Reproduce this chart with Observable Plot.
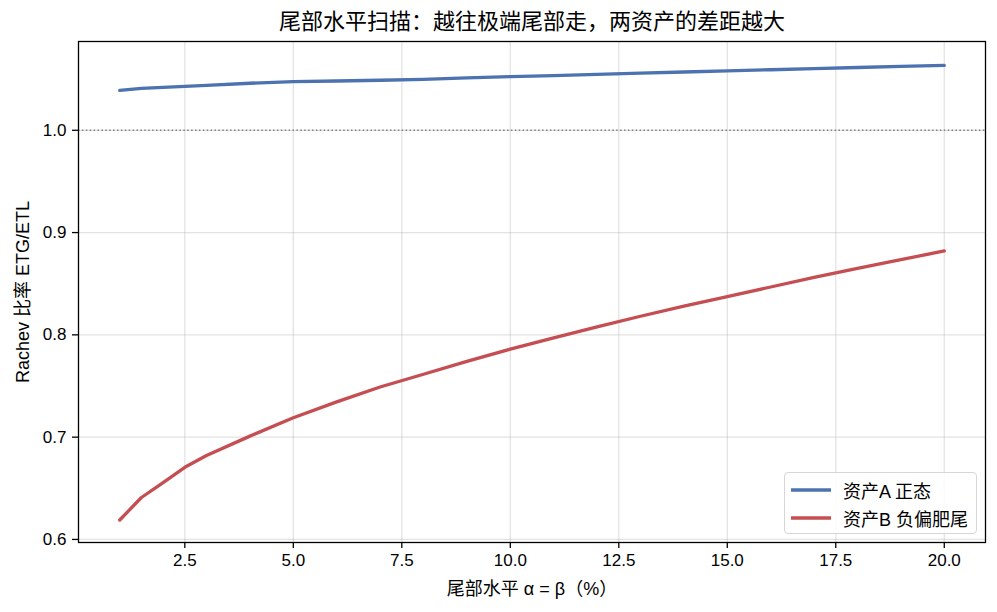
<!DOCTYPE html>
<html><head><meta charset="utf-8">
<script src="https://cdn.jsdelivr.net/npm/d3@7"></script>
<script src="https://cdn.jsdelivr.net/npm/@observablehq/plot@0.6"></script>
<style>
body{margin:0;background:#fff;}
#wrap{position:relative;width:997px;height:612px;font-family:"Liberation Sans","Noto Sans CJK SC",sans-serif;}
#legend{position:absolute;left:784px;top:472px;width:193px;height:62px;border:1px solid #d6d6d6;border-radius:4px;background:rgba(255,255,255,0.85);box-sizing:border-box;}
.item{position:absolute;left:0;height:22px;display:flex;align-items:center;font-size:18px;color:#000;white-space:nowrap;}
.item svg{margin-left:6px;margin-right:12px;}
</style>
</head><body>
<div id="wrap"></div>
<script>
// Data
const tailLevels = [1, 1.5, 2, 2.5, 3, 4, 5, 6, 7, 8, 9, 10, 11, 12, 13, 14, 15, 16, 17, 18, 19, 20];
const seriesA = [1.039, 1.041, 1.042, 1.043, 1.044, 1.046, 1.0475, 1.0482, 1.0489, 1.0498, 1.0512, 1.0525, 1.0535, 1.0546, 1.0558, 1.057, 1.0581, 1.0592, 1.0603, 1.0614, 1.0624, 1.0634];
const seriesB = [0.619, 0.641, 0.6555, 0.6705, 0.682, 0.701, 0.719, 0.7345, 0.749, 0.7615, 0.774, 0.786, 0.797, 0.8078, 0.8182, 0.828, 0.8374, 0.8468, 0.8562, 0.865, 0.8735, 0.882];
const seriesNames = ["资产A 正态", "资产B 负偏肥尾"];
const seriesColors = ["#4c72b0", "#c44e52"];
const xTicks = [2.5, 5.0, 7.5, 10.0, 12.5, 15.0, 17.5, 20.0];
const yTicks = [0.6, 0.7, 0.8, 0.9, 1.0];
const refLine = [1.0];
const title = "尾部水平扫描：越往极端尾部走，两资产的差距越大";
const xLabel = "尾部水平 α = β（%）";
const yLabel = "Rachev 比率 ETG/ETL";

const fontFam = '"Liberation Sans","Noto Sans CJK SC",sans-serif';
const dataA = tailLevels.map((x, i) => ({x, y: seriesA[i]}));
const dataB = tailLevels.map((x, i) => ({x, y: seriesB[i]}));

const chart = Plot.plot({
  width: 997, height: 612,
  marginLeft: 78, marginRight: 12, marginTop: 41, marginBottom: 70,
  style: {fontFamily: fontFam, fontSize: "17px", background: "transparent", color: "#000"},
  x: {domain: [0.05, 20.95]},
  y: {domain: [0.597, 1.0868]},
  marks: [
    Plot.gridX(xTicks, {stroke: "#b0b0b0", strokeOpacity: 0.35, strokeWidth: 1.3}),
    Plot.gridY(yTicks, {stroke: "#b0b0b0", strokeOpacity: 0.35, strokeWidth: 1.3}),
    Plot.ruleY(refLine, {stroke: "#808080", strokeWidth: 1.5, strokeDasharray: "1.5,2.4"}),
    Plot.line(dataA, {x: "x", y: "y", stroke: seriesColors[0], strokeWidth: 3.3}),
    Plot.line(dataB, {x: "x", y: "y", stroke: seriesColors[1], strokeWidth: 3.3}),
    Plot.axisX(xTicks, {tickSize: 6, tickPadding: 5, label: null, tickFormat: d3.format(".1f"), strokeWidth: 1.3}),
    Plot.axisY(yTicks, {tickSize: 6, tickPadding: 6, label: null, tickFormat: d3.format(".1f"), strokeWidth: 1.3}),
    Plot.frame({stroke: "#000", strokeWidth: 1.3}),
    Plot.text([title], {text: d => d, frameAnchor: "top", lineAnchor: "middle", dy: -20, fontSize: 22}),
    Plot.text([xLabel], {text: d => d, frameAnchor: "bottom", lineAnchor: "middle", dy: 47, fontSize: 18}),
    Plot.text([yLabel], {text: d => d, frameAnchor: "left", textAnchor: "middle", lineAnchor: "middle", dx: -55, rotate: -90, fontSize: 18})
  ]
});
const wrap = document.getElementById("wrap");
wrap.appendChild(chart);

// Legend
const legend = document.createElement("div");
legend.id = "legend";
seriesNames.forEach((name, i) => {
  const item = document.createElement("div");
  item.className = "item";
  item.style.top = (6 + i * 28) + "px";
  item.innerHTML = `<svg width="40" height="6"><line x1="0" y1="3" x2="40" y2="3" stroke="${seriesColors[i]}" stroke-width="3.3"/></svg><span>${name}</span>`;
  legend.appendChild(item);
});
wrap.appendChild(legend);
</script>
</body></html>
